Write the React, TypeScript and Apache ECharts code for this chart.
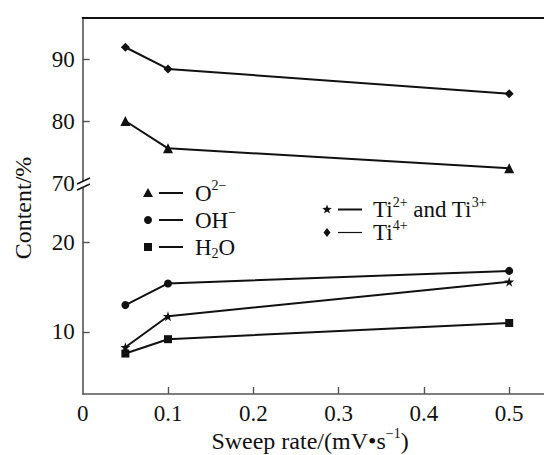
import React, { useEffect, useRef } from "react";
import * as echarts from "echarts";

// ---- data ----
const sweepRates = [0.05, 0.1, 0.5];
const ti4Plus = [91.9, 88.4, 84.4];
const o2Minus = [80.0, 75.6, 72.4];
const ohMinus = [13.0, 15.4, 16.8];
const ti2And3 = [8.3, 11.75, 15.6];
const h2o = [7.6, 9.2, 11.0];
const xTickLabels = [0, 0.1, 0.2, 0.3, 0.4, 0.5];
const topYTicks = [70, 80, 90];
const bottomYTicks = [10, 20];

const FONT = "Liberation Serif";
const INK = "#111";
const AXIS = "#555";
const FS = 23;
const SUP = 14;

const STAR = "path://M50,0 L61,35 L98,35 L68,57 L79,91 L50,70 L21,91 L32,57 L2,35 L39,35 Z";

const pairs = (ys: number[]) => sweepRates.map((x, i) => [x, ys[i]]);

type Seg = [string, "n" | "sup" | "sub"];

let measureCtx: CanvasRenderingContext2D | null = null;
function textWidth(t: string, size: number) {
  if (!measureCtx) measureCtx = document.createElement("canvas").getContext("2d");
  if (!measureCtx) return t.length * size * 0.5;
  measureCtx.font = `${size}px "${FONT}"`;
  return measureCtx.measureText(t).width;
}

// lays out a formula-like label (normal / superscript / subscript pieces)
function formula(x: number, y: number, segs: Seg[], base: number, align: "left" | "center" = "left") {
  const sizes = segs.map(([, k]) => (k === "n" ? base : SUP));
  const widths = segs.map(([t], i) => textWidth(t, sizes[i]));
  const total = widths.reduce((a, b) => a + b, 0);
  let cx = align === "center" ? x - total / 2 : x;
  const out: any[] = [];
  segs.forEach(([t, k], i) => {
    const dy = k === "sup" ? -base * 0.32 : k === "sub" ? base * 0.3 : 0;
    out.push({
      type: "text",
      x: cx,
      y: y + dy,
      style: {
        text: t,
        fontFamily: FONT,
        fontSize: sizes[i],
        lineHeight: Math.round(sizes[i] * 0.8),
        fill: INK,
        align: "left",
        verticalAlign: "middle",
      },
    });
    cx += widths[i];
  });
  return out;
}

function starPoints(cx: number, cy: number, r: number) {
  const pts: number[][] = [];
  for (let i = 0; i < 10; i++) {
    const a = -Math.PI / 2 + (i * Math.PI) / 5;
    const rr = i % 2 === 0 ? r : r * 0.42;
    pts.push([cx + rr * Math.cos(a), cy + rr * Math.sin(a)]);
  }
  return pts;
}

function legendRow(
  kind: string,
  sx: number,
  y: number,
  lineFrom: number,
  lineTo: number,
  textX: number,
  segs: Seg[],
  lw = 2
) {
  const els: any[] = [];
  const fill = { fill: INK };
  if (kind === "triangle") {
    els.push({ type: "polygon", shape: { points: [[sx, y - 5], [sx - 5, y + 4], [sx + 5, y + 4]] }, style: fill });
  } else if (kind === "circle") {
    els.push({ type: "circle", shape: { cx: sx, cy: y, r: 4 }, style: fill });
  } else if (kind === "rect") {
    els.push({ type: "rect", shape: { x: sx - 4, y: y - 4, width: 8, height: 8 }, style: fill });
  } else if (kind === "star") {
    els.push({ type: "polygon", shape: { points: starPoints(sx, y, 5) }, style: fill });
  } else if (kind === "diamond") {
    els.push({ type: "polygon", shape: { points: [[sx, y - 4.5], [sx + 3.5, y], [sx, y + 4.5], [sx - 3.5, y]] }, style: fill });
  }
  els.push({ type: "line", shape: { x1: lineFrom, y1: y, x2: lineTo, y2: y }, style: { stroke: INK, lineWidth: lw } });
  els.push(...formula(textX, y, segs, FS));
  return els;
}

export default function App() {
  const ref = useRef<HTMLDivElement>(null);

  useEffect(() => {
    document.body.style.margin = "0";
    if (!ref.current) return;
    const chart = echarts.init(ref.current, null, { renderer: "svg" });

    const axisLine = { show: true, lineStyle: { color: AXIS, width: 1.6 } };
    const axisLabel = { fontFamily: FONT, fontSize: FS, color: INK };

    const lineSeries = (name: string, data: number[], symbol: string, size: number, gi: number) => ({
      name,
      type: "line",
      xAxisIndex: gi,
      yAxisIndex: gi,
      data: pairs(data),
      symbol,
      symbolSize: size,
      lineStyle: { color: INK, width: 2 },
      itemStyle: { color: INK },
      z: 5,
    });

    const graphic: any[] = [
      // y axis title
      {
        type: "text",
        x: 23,
        y: 208,
        rotation: Math.PI / 2,
        style: { text: "Content/%", fontFamily: FONT, fontSize: 24, fill: INK, align: "center", verticalAlign: "middle" },
      },
      // x axis title
      ...formula(
        310,
        441,
        [
          ["Sweep rate/(mV•s", "n"],
          ["−1", "sup"],
          [")", "n"],
        ],
        24,
        "center"
      ),
      // axis break
      {
        type: "polygon",
        shape: { points: [[77, 184], [90, 178], [90, 184], [77, 190]] },
        style: { fill: "#fff" },
        z: 10,
      },
      { type: "line", shape: { x1: 77, y1: 184, x2: 90, y2: 178 }, style: { stroke: INK, lineWidth: 1.4 }, z: 11 },
      { type: "line", shape: { x1: 77, y1: 190, x2: 90, y2: 184 }, style: { stroke: INK, lineWidth: 1.4 }, z: 11 },
      ...legendRow("triangle", 148, 193, 159, 183, 195, [["O", "n"], ["2−", "sup"]]),
      ...legendRow("circle", 148, 220, 159, 183, 195, [["OH", "n"], ["−", "sup"]]),
      ...legendRow("rect", 148, 247, 159, 183, 195, [["H", "n"], ["2", "sub"], ["O", "n"]]),
      ...legendRow("star", 327, 209.5, 338, 362, 373, [["Ti", "n"], ["2+", "sup"], [" and Ti", "n"], ["3+", "sup"]]),
      ...legendRow("diamond", 327, 232.5, 338, 362, 373, [["Ti", "n"], ["4+", "sup"]], 1.2),
    ];

    chart.setOption({
      animation: false,
      backgroundColor: "#fff",
      grid: [
        { left: 82.7, right: -50.5, top: 17.5, height: 168, outerBoundsMode: "none", containLabel: false },
        { left: 82.7, right: -50.5, top: 185.5, height: 208.5, outerBoundsMode: "none", containLabel: false },
      ],
      xAxis: [
        {
          gridIndex: 0,
          type: "value",
          position: "top",
          min: 0,
          max: 0.6,
          interval: 0.1,
          axisLine: { show: true, lineStyle: { color: INK, width: 2 } },
          axisTick: { show: false },
          axisLabel: { show: false },
          splitLine: { show: false },
        },
        {
          gridIndex: 1,
          type: "value",
          position: "bottom",
          min: 0,
          max: 0.6,
          interval: 0.1,
          axisLine,
          axisTick: {
            show: true,
            inside: true,
            length: 7,
            customValues: xTickLabels.slice(1),
            lineStyle: { color: AXIS, width: 1.4 },
          },
          axisLabel: { ...axisLabel, margin: 8, customValues: xTickLabels },
          splitLine: { show: false },
        },
      ],
      yAxis: [
        {
          gridIndex: 0,
          type: "value",
          min: 69.6,
          max: 96.7,
          axisLine,
          axisTick: { show: true, inside: true, length: 7, customValues: [80, 90], lineStyle: { color: AXIS, width: 1.4 } },
          axisLabel: { ...axisLabel, margin: 8, customValues: topYTicks },
          splitLine: { show: false },
        },
        {
          gridIndex: 1,
          type: "value",
          min: 3.1,
          max: 26.3,
          axisLine,
          axisTick: { show: true, inside: true, length: 7, customValues: bottomYTicks, lineStyle: { color: AXIS, width: 1.4 } },
          axisLabel: { ...axisLabel, margin: 8, customValues: bottomYTicks },
          splitLine: { show: false },
        },
      ],
      series: [
        lineSeries("Ti4+", ti4Plus, "diamond", 9, 0),
        lineSeries("O2-", o2Minus, "triangle", 10, 0),
        lineSeries("OH-", ohMinus, "circle", 8, 1),
        lineSeries("Ti2+ and Ti3+", ti2And3, STAR, 10, 1),
        lineSeries("H2O", h2o, "rect", 8, 1),
      ],
      graphic,
    });

    return () => chart.dispose();
  }, []);

  return <div ref={ref} style={{ width: 544, height: 455 }} />;
}
